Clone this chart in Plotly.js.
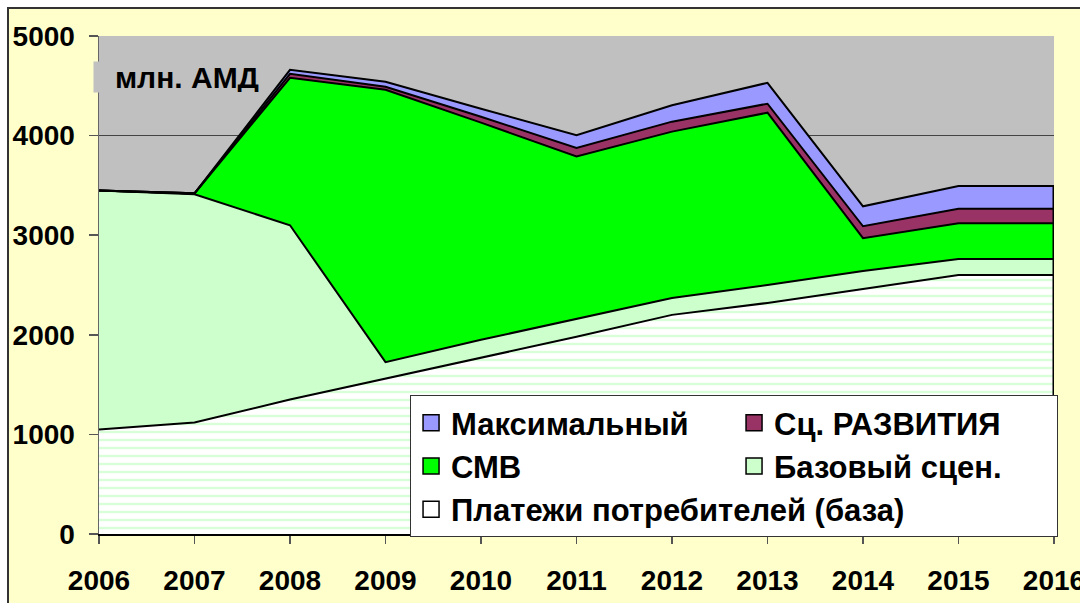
<!DOCTYPE html>
<html>
<head>
<meta charset="utf-8">
<script src="https://cdn.plot.ly/plotly-3.0.1.min.js"></script>
<style>
  html, body { margin: 0; padding: 0; background: #ffffff; overflow: hidden; }
  #wrap { position: absolute; left: 7px; top: 7px; border-left: 2px solid #333; border-top: 2px solid #333; }
  #chart { width: 1071px; height: 594px; }
</style>
</head>
<body>
<div id="wrap"><div id="chart"></div></div>
<script>
// Data (млн. АМД), stacked increments
const years = [2006, 2007, 2008, 2009, 2010, 2011, 2012, 2013, 2014, 2015, 2016];
const platezhi   = [1050, 1120, 1350, 1560, 1770, 1980, 2200, 2320, 2460, 2600, 2600];
const bazovy     = [2400, 2290, 1750, 165, 180, 180, 170, 180, 180, 160, 160];
const smv        = [0, 10, 1480, 2735, 2180, 1630, 1670, 1730, 330, 360, 360];
const razvitiya  = [0, 0, 40, 30, 60, 85, 100, 90, 120, 145, 145];
const maksimal   = [0, 0, 40, 50, 80, 130, 165, 210, 200, 230, 230];

const names = {
  platezhi: 'Платежи потребителей (база)',
  bazovy: 'Базовый сцен.',
  smv: 'СМВ',
  razvitiya: 'Сц. РАЗВИТИЯ',
  maksimal: 'Максимальный'
};
const colors = {
  platezhi: '#FFFFFF',
  bazovy: '#CCFFCC',
  smv: '#00FF00',
  razvitiya: '#993366',
  maksimal: '#9999FF'
};

const FONT = 'Liberation Sans, Arial, sans-serif';
const edge = {color: '#000000', width: 2};

function area(key, vals, extra) {
  return Object.assign({
    type: 'scatter', mode: 'lines', x: years, y: vals, name: names[key],
    stackgroup: 'one', line: edge, fillcolor: colors[key],
    showlegend: false, hoverinfo: 'skip'
  }, extra || {});
}

const traces = [
  area('platezhi', platezhi, {
    fillpattern: {shape: '-', bgcolor: '#FFFFFF', fgcolor: '#D8FFD8', size: 8, solidity: 0.3}
  }),
  area('bazovy', bazovy),
  area('smv', smv),
  area('razvitiya', razvitiya),
  area('maksimal', maksimal)
];

// right-hand edge of the stacked polygon
const lastIdx = years.length - 1;
const lastTotal = platezhi[lastIdx] + bazovy[lastIdx] + smv[lastIdx] + razvitiya[lastIdx] + maksimal[lastIdx];
traces.push({
  type: 'scatter', mode: 'lines', x: [years[lastIdx], years[lastIdx]], y: [0, lastTotal],
  line: {color: '#000000', width: 3}, showlegend: false, hoverinfo: 'skip'
});

// legend-only entries
['maksimal', 'razvitiya', 'smv', 'bazovy', 'platezhi'].forEach(k => {
  traces.push({
    type: 'scatter', mode: 'markers', x: [null], y: [null], name: names[k],
    marker: {symbol: 'square', size: 16, color: colors[k], line: {color: '#000000', width: 1.5}},
    showlegend: true, hoverinfo: 'skip'
  });
});

const layout = {
  width: 1071, height: 594,
  margin: {l: 90, r: 26, t: 27, b: 69, autoexpand: false},
  paper_bgcolor: '#FFFFCC',
  plot_bgcolor: '#C0C0C0',
  font: {family: FONT, color: '#000000'},
  showlegend: true,
  xaxis: {
    range: [2006, 2016], tickmode: 'array', tickvals: years, ticktext: years.map(String),
    showgrid: false, zeroline: false, automargin: false,
    showline: true, linecolor: '#000000', linewidth: 2,
    ticks: 'outside', ticklen: 8, tickcolor: '#555555', tickwidth: 1.5,
    tickfont: {family: FONT, size: 28, weight: 700, color: '#000000'},
    ticklabelstandoff: 12, ticklabeloverflow: 'allow'
  },
  yaxis: {
    range: [0, 5000], tickvals: [0, 1000, 2000, 3000, 4000, 5000],
    showgrid: true, gridcolor: '#444444', gridwidth: 1, zeroline: false, automargin: false,
    showline: true, linecolor: '#666666', linewidth: 1.5,
    ticks: 'outside', ticklen: 9, tickcolor: '#555555', tickwidth: 1.5,
    tickfont: {family: FONT, size: 28, weight: 700, color: '#000000'},
    ticklabelstandoff: 8
  },
  legend: {
    x: 0.3257, y: 0.279, xanchor: 'left', yanchor: 'top',
    orientation: 'h', traceorder: 'normal',
    entrywidth: 278, entrywidthmode: 'pixels',
    bgcolor: '#FFFFFF', bordercolor: '#333333', borderwidth: 1,
    font: {family: FONT, size: 31, weight: 700, color: '#000000'},
    itemwidth: 30, tracegroupgap: 0
  },
  annotations: [{
    text: 'млн. АМД', xref: 'paper', yref: 'y', x: -0.0063, y: 4590,
    xanchor: 'left', yanchor: 'middle', showarrow: false,
    width: 165, height: 30, align: 'right',
    bgcolor: '#C0C0C0', borderpad: 0,
    font: {family: FONT, size: 30, weight: 700, color: '#000000'}
  }]
};

Plotly.newPlot('chart', traces, layout, {displayModeBar: false, staticPlot: true});
</script>
</body>
</html>
